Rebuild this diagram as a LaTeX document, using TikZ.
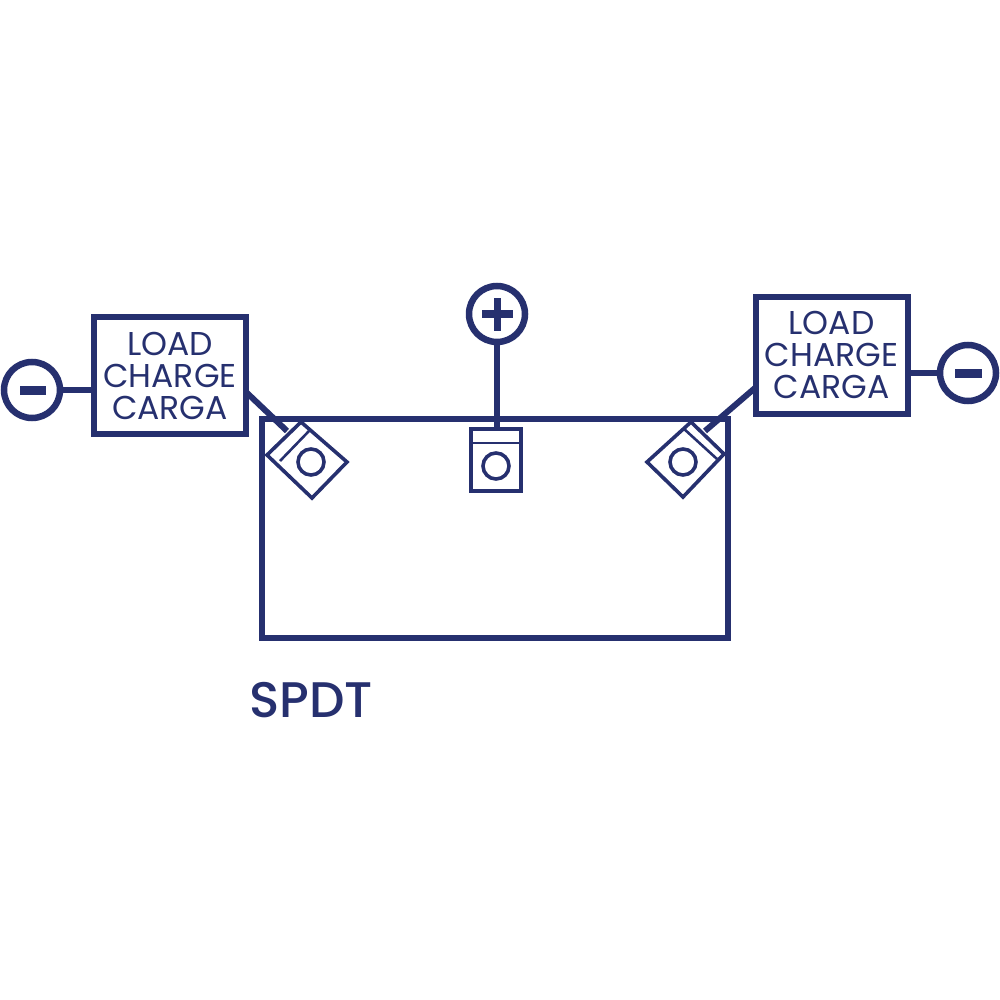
\documentclass[tikz,border=0pt]{standalone}
\usepackage{fontspec}
\setmainfont{Poppins}
\newfontfamily\labelfont{Poppins}
\newfontfamily\capfont{Poppins Medium}
\definecolor{navy}{HTML}{26306F}
\tikzset{
  wire/.style={draw=navy,line width=6pt},
  pole/.style={circle,draw=navy,line width=6.5pt,fill=white,minimum size=56pt,inner sep=0pt},
  loadbox/.style={rectangle,draw=navy,line width=6pt,fill=white,minimum width=152pt,minimum height=117pt,inner sep=0pt,align=center,text=navy,font=\labelfont\fontsize{33}{32.5}\selectfont},
  lug/.style={circle,draw=navy,line width=3.6pt,minimum size=26pt,inner sep=0pt},
  tab/.style={draw=navy,line width=3.6pt,line join=miter},
  sign/.style={fill=navy,draw=none},
  caption/.style={text=navy,font=\capfont\fontsize{50}{54}\selectfont,inner sep=0pt,anchor=base west}
}
\begin{document}
\begin{tikzpicture}[x=1pt,y=-1pt]
\useasboundingbox (0,0) rectangle (1000,1000);
% switch body
\node[rectangle,draw=navy,line width=6pt,minimum width=466pt,minimum height=219pt,inner sep=0pt] (body) at (495,528.5) {};
% loads and poles
\node[loadbox] (loadL) at (170,375.5) {LOAD\\[-0.5pt]CHARGE\\[-0.5pt]CARGA};
\node[loadbox] (loadR) at (831.5,355) {LOAD\\[-0.5pt]CHARGE\\[-0.5pt]CARGA};
\node[pole] (minusL) at (32,390) {};
\node[pole] (minusR) at (968,373) {};
\node[pole] (plus) at (497,314) {};
\fill[sign] (20,386) rectangle (46,395);
\fill[sign] (955,369) rectangle (982,378);
\fill[sign] (482,310) rectangle (513,318);
\fill[sign] (494,298) rectangle (501,331);
% centre terminal
\node[rectangle,draw=navy,line width=3.6pt,minimum width=50pt,minimum height=62pt,inner sep=0pt] (termC) at (496,460) {};
\draw[tab,line width=2.6pt] (471,443) -- (521,443);
\node[lug] (lugC) at (496,466) {};
% left terminal
\coordinate (aL) at (301,422); \coordinate (bL) at (347,462);
\coordinate (cL) at (312,498); \coordinate (dL) at (267,455);
\draw[tab] (aL) -- (bL) -- (cL) -- (dL) -- cycle;
\draw[tab,line width=2.6pt] (280,461) -- (309,431);
\node[lug] (lugL) at (311,462) {};
\coordinate (wireL) at (287,431);
% right terminal
\coordinate (aR) at (691,422); \coordinate (bR) at (724,454);
\coordinate (cR) at (683,497); \coordinate (dR) at (647,462);
\draw[tab] (aR) -- (bR) -- (cR) -- (dR) -- cycle;
\draw[tab,line width=2.6pt] (683,428) -- (717,459);
\node[lug] (lugR) at (683,462) {};
\coordinate (wireR) at (705,431);
% connectors
\draw[wire] (minusL.east) -- (loadL.west |- minusL.east);
\draw[wire] (minusR.west) -- (loadR.east |- minusR.west);
\draw[wire] (plus.south) -- (plus.south |- termC.north);
\coordinate (loadLout) at (246,392);
\coordinate (loadRout) at (755,388);
\draw[wire] (loadLout) -- (wireL);
\draw[wire] (loadRout) -- (wireR);
% caption
\node[caption] (title) at (249,717) {SPDT};
\end{tikzpicture}
\end{document}
